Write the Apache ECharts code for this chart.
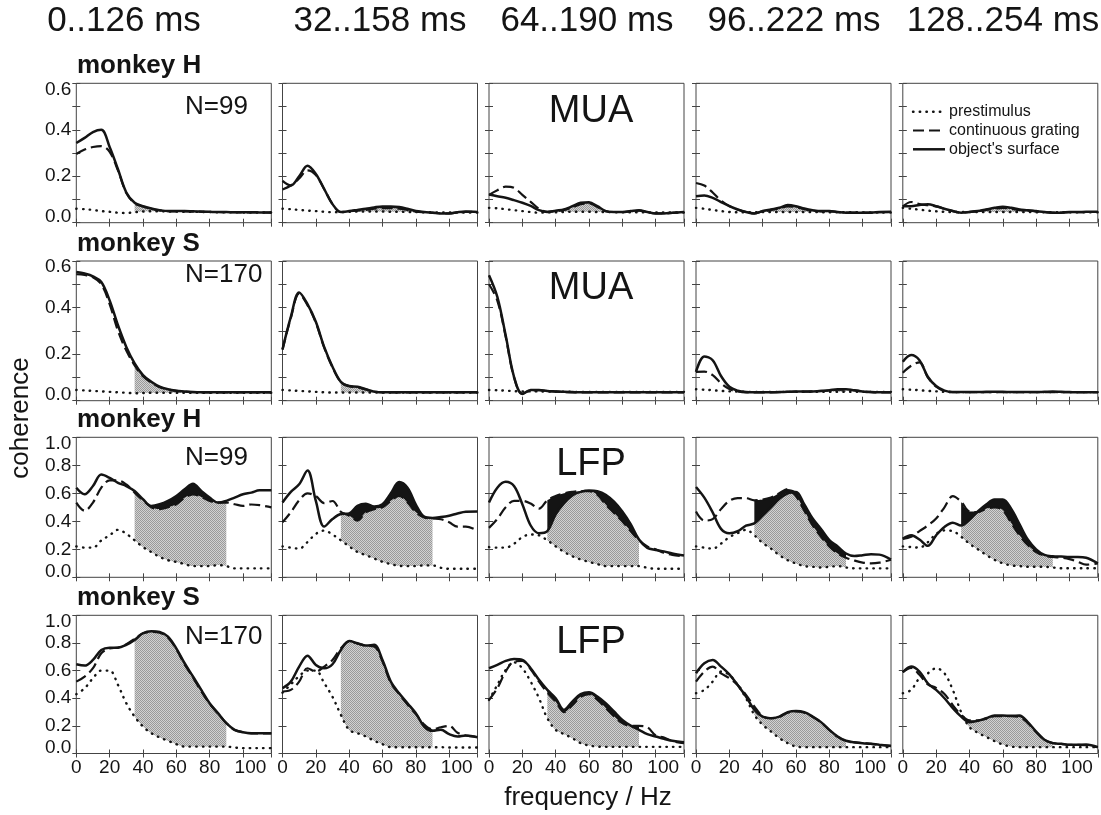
<!DOCTYPE html>
<html>
<head>
<meta charset="utf-8">
<script src="https://cdn.jsdelivr.net/npm/echarts@6/dist/echarts.min.js"></script>
<style>
html, body { margin: 0; background: #fff; }
#chart { width: 1101px; height: 815px; }
</style>
</head>
<body>
<div id="chart"></div>
<script>
// frequency samples (Hz), shared by every panel
const freqs = [0, 5, 10, 15, 20, 25, 30, 35, 40, 45, 50, 55, 60, 65, 70, 75, 80, 85, 90, 95, 100, 105, 110, 117];

const windows = ['0..126 ms', '32..158 ms', '64..190 ms', '96..222 ms', '128..254 ms'];
const monkeys = ['monkey H', 'monkey S', 'monkey H', 'monkey S'];
const counts = ['N=99', 'N=170', 'N=99', 'N=170'];
const signals = ['MUA', 'MUA', 'LFP', 'LFP'];
const legendNames = ['prestimulus', 'continuous grating', "object's surface"];
const xTicks = [0, 20, 40, 60, 80, 100];
const bandHz = [35, 90];

// monkey H, MUA
const mkH_MUA_pre = [
  [0.060,0.058,0.055,0.050,0.047,0.043,0.042,0.045,0.048,0.049,0.049,0.048,0.048,0.047,0.047,0.046,0.046,0.045,0.045,0.045,0.044,0.044,0.044,0.044],
  [0.060,0.058,0.055,0.052,0.050,0.047,0.045,0.046,0.047,0.048,0.048,0.048,0.048,0.047,0.047,0.046,0.046,0.045,0.045,0.044,0.044,0.044,0.044,0.044],
  [0.064,0.062,0.058,0.054,0.050,0.046,0.043,0.044,0.045,0.046,0.047,0.047,0.047,0.046,0.046,0.045,0.045,0.045,0.045,0.044,0.044,0.044,0.044,0.044],
  [0.064,0.060,0.055,0.050,0.046,0.045,0.045,0.045,0.046,0.046,0.046,0.046,0.046,0.046,0.046,0.045,0.045,0.045,0.045,0.045,0.044,0.044,0.044,0.044],
  [0.064,0.060,0.056,0.052,0.049,0.047,0.046,0.046,0.046,0.046,0.046,0.046,0.046,0.046,0.046,0.046,0.045,0.045,0.045,0.045,0.045,0.045,0.045,0.045]
];
const mkH_MUA_grating = [
  [0.296,0.315,0.326,0.330,0.305,0.225,0.128,0.084,0.070,0.060,0.053,0.050,0.049,0.049,0.048,0.047,0.046,0.046,0.045,0.045,0.044,0.044,0.044,0.043],
  [0.143,0.160,0.190,0.225,0.205,0.145,0.080,0.046,0.049,0.052,0.055,0.060,0.063,0.063,0.060,0.055,0.048,0.045,0.043,0.040,0.040,0.044,0.047,0.045],
  [0.120,0.140,0.155,0.150,0.120,0.090,0.060,0.047,0.050,0.055,0.066,0.080,0.083,0.068,0.050,0.046,0.046,0.049,0.052,0.045,0.040,0.040,0.042,0.045],
  [0.171,0.160,0.130,0.095,0.072,0.057,0.046,0.040,0.049,0.055,0.061,0.070,0.067,0.058,0.052,0.049,0.049,0.046,0.043,0.043,0.043,0.043,0.045,0.046],
  [0.070,0.089,0.080,0.075,0.070,0.060,0.050,0.043,0.046,0.050,0.055,0.060,0.064,0.060,0.055,0.052,0.049,0.046,0.043,0.043,0.045,0.045,0.046,0.046]
];
const mkH_MUA_surface = [
  [0.343,0.365,0.390,0.400,0.326,0.230,0.130,0.086,0.071,0.061,0.054,0.050,0.050,0.050,0.049,0.048,0.047,0.046,0.046,0.045,0.045,0.045,0.044,0.044],
  [0.180,0.160,0.200,0.245,0.210,0.145,0.080,0.046,0.050,0.055,0.060,0.066,0.070,0.070,0.068,0.060,0.050,0.046,0.043,0.040,0.040,0.045,0.048,0.046],
  [0.121,0.114,0.107,0.097,0.086,0.072,0.054,0.046,0.052,0.057,0.071,0.086,0.088,0.071,0.050,0.046,0.046,0.050,0.054,0.046,0.040,0.040,0.043,0.046],
  [0.114,0.117,0.107,0.089,0.071,0.057,0.046,0.040,0.050,0.057,0.064,0.076,0.071,0.061,0.054,0.050,0.050,0.046,0.043,0.043,0.043,0.043,0.046,0.047],
  [0.071,0.071,0.076,0.079,0.071,0.060,0.050,0.043,0.046,0.050,0.057,0.064,0.069,0.064,0.057,0.054,0.050,0.046,0.043,0.043,0.046,0.046,0.047,0.047]
];

// monkey S, MUA
const mkS_MUA_pre = [
  [0.046,0.044,0.042,0.040,0.038,0.036,0.034,0.032,0.033,0.034,0.034,0.034,0.034,0.034,0.034,0.034,0.034,0.034,0.034,0.034,0.034,0.034,0.034,0.034],
  [0.046,0.044,0.042,0.040,0.038,0.036,0.035,0.035,0.035,0.035,0.035,0.035,0.035,0.035,0.035,0.035,0.035,0.035,0.035,0.035,0.035,0.035,0.035,0.035],
  [0.046,0.045,0.043,0.041,0.040,0.040,0.040,0.039,0.039,0.039,0.038,0.038,0.038,0.038,0.038,0.038,0.038,0.038,0.038,0.038,0.038,0.038,0.038,0.038],
  [0.049,0.047,0.045,0.042,0.040,0.039,0.038,0.038,0.038,0.038,0.038,0.038,0.038,0.038,0.038,0.038,0.038,0.038,0.038,0.038,0.038,0.038,0.038,0.038],
  [0.049,0.047,0.045,0.042,0.040,0.038,0.037,0.037,0.037,0.037,0.037,0.037,0.037,0.037,0.037,0.037,0.037,0.037,0.037,0.037,0.037,0.037,0.037,0.037]
];
const mkS_MUA_grating = [
  [0.543,0.540,0.530,0.500,0.415,0.300,0.215,0.152,0.105,0.078,0.058,0.048,0.042,0.039,0.037,0.036,0.036,0.036,0.036,0.036,0.036,0.036,0.036,0.036],
  [0.220,0.355,0.460,0.410,0.335,0.228,0.143,0.080,0.062,0.058,0.048,0.039,0.036,0.036,0.036,0.036,0.036,0.036,0.036,0.036,0.036,0.036,0.036,0.036],
  [0.500,0.430,0.275,0.100,0.030,0.044,0.045,0.041,0.039,0.037,0.036,0.036,0.036,0.036,0.036,0.036,0.036,0.036,0.036,0.036,0.036,0.036,0.036,0.036],
  [0.124,0.125,0.110,0.075,0.050,0.040,0.036,0.036,0.036,0.036,0.037,0.038,0.039,0.039,0.040,0.042,0.044,0.047,0.047,0.044,0.040,0.037,0.036,0.036],
  [0.120,0.150,0.165,0.100,0.060,0.042,0.037,0.037,0.037,0.037,0.037,0.037,0.037,0.037,0.037,0.037,0.037,0.037,0.037,0.037,0.037,0.037,0.037,0.037]
];
const mkS_MUA_surface = [
  [0.553,0.546,0.534,0.510,0.431,0.324,0.231,0.160,0.110,0.081,0.060,0.049,0.043,0.040,0.037,0.036,0.036,0.036,0.036,0.036,0.036,0.036,0.036,0.036],
  [0.220,0.360,0.465,0.415,0.339,0.231,0.146,0.081,0.063,0.060,0.049,0.039,0.036,0.036,0.036,0.036,0.036,0.036,0.036,0.036,0.036,0.036,0.036,0.036],
  [0.539,0.446,0.281,0.103,0.029,0.046,0.046,0.042,0.040,0.038,0.037,0.036,0.036,0.036,0.036,0.036,0.036,0.036,0.036,0.036,0.036,0.036,0.036,0.036],
  [0.124,0.190,0.174,0.106,0.060,0.043,0.037,0.036,0.036,0.036,0.037,0.038,0.039,0.039,0.040,0.042,0.045,0.049,0.049,0.045,0.040,0.037,0.036,0.036],
  [0.167,0.196,0.174,0.103,0.063,0.043,0.037,0.037,0.037,0.037,0.038,0.038,0.038,0.037,0.037,0.037,0.037,0.038,0.039,0.038,0.037,0.036,0.036,0.036]
];

// monkey H, LFP
const mkH_LFP_pre = [
  [0.221,0.212,0.212,0.263,0.300,0.339,0.311,0.264,0.216,0.181,0.146,0.122,0.110,0.094,0.080,0.080,0.080,0.087,0.080,0.064,0.064,0.064,0.064,0.064],
  [0.221,0.212,0.205,0.252,0.310,0.334,0.306,0.264,0.221,0.181,0.158,0.134,0.110,0.094,0.082,0.080,0.080,0.085,0.085,0.068,0.061,0.061,0.061,0.061],
  [0.216,0.212,0.212,0.240,0.287,0.306,0.300,0.264,0.221,0.181,0.150,0.127,0.110,0.094,0.080,0.080,0.080,0.080,0.080,0.068,0.061,0.061,0.061,0.061],
  [0.221,0.212,0.205,0.240,0.287,0.315,0.339,0.300,0.245,0.205,0.158,0.122,0.099,0.080,0.075,0.070,0.075,0.080,0.070,0.064,0.064,0.064,0.064,0.064],
  [0.221,0.216,0.212,0.250,0.310,0.335,0.330,0.290,0.240,0.200,0.160,0.125,0.100,0.085,0.080,0.075,0.075,0.075,0.070,0.065,0.065,0.065,0.065,0.065]
];
const mkH_LFP_grating = [
  [0.534,0.475,0.534,0.640,0.692,0.692,0.663,0.605,0.550,0.500,0.487,0.500,0.522,0.569,0.593,0.574,0.546,0.534,0.534,0.522,0.510,0.520,0.515,0.500],
  [0.393,0.465,0.550,0.600,0.580,0.530,0.545,0.468,0.440,0.405,0.464,0.487,0.500,0.546,0.581,0.534,0.464,0.428,0.421,0.415,0.393,0.362,0.362,0.334],
  [0.353,0.416,0.500,0.546,0.546,0.527,0.490,0.550,0.580,0.600,0.610,0.615,0.615,0.590,0.520,0.460,0.400,0.330,0.265,0.220,0.200,0.175,0.160,0.150],
  [0.470,0.405,0.416,0.487,0.546,0.565,0.565,0.550,0.555,0.570,0.600,0.630,0.580,0.475,0.370,0.290,0.220,0.170,0.140,0.120,0.105,0.100,0.105,0.125],
  [0.275,0.290,0.330,0.370,0.420,0.500,0.580,0.540,0.470,0.465,0.490,0.500,0.480,0.390,0.300,0.230,0.180,0.155,0.145,0.140,0.130,0.110,0.090,0.100]
];
const mkH_LFP_surface = [
  [0.640,0.593,0.652,0.734,0.710,0.675,0.652,0.616,0.558,0.510,0.522,0.546,0.581,0.628,0.668,0.616,0.569,0.534,0.546,0.569,0.593,0.605,0.621,0.621],
  [0.534,0.610,0.664,0.762,0.546,0.362,0.416,0.452,0.456,0.510,0.525,0.505,0.522,0.600,0.680,0.640,0.520,0.433,0.424,0.430,0.440,0.456,0.468,0.470],
  [0.534,0.640,0.682,0.652,0.522,0.370,0.315,0.330,0.450,0.530,0.585,0.610,0.620,0.615,0.590,0.540,0.470,0.380,0.270,0.210,0.195,0.185,0.170,0.155],
  [0.645,0.569,0.464,0.346,0.315,0.329,0.369,0.385,0.440,0.500,0.560,0.600,0.610,0.520,0.420,0.345,0.265,0.220,0.170,0.152,0.158,0.165,0.162,0.127],
  [0.275,0.300,0.270,0.225,0.300,0.360,0.390,0.370,0.410,0.470,0.520,0.555,0.555,0.490,0.380,0.270,0.200,0.160,0.150,0.148,0.145,0.145,0.140,0.100]
];

// monkey S, LFP
const mkS_LFP_pre = [
  [0.429,0.472,0.545,0.600,0.600,0.496,0.364,0.267,0.195,0.147,0.116,0.092,0.067,0.050,0.050,0.050,0.050,0.050,0.050,0.043,0.039,0.039,0.039,0.039],
  [0.440,0.500,0.560,0.600,0.600,0.510,0.410,0.280,0.170,0.147,0.123,0.092,0.067,0.046,0.045,0.045,0.045,0.045,0.045,0.045,0.043,0.043,0.043,0.043],
  [0.388,0.496,0.605,0.660,0.617,0.520,0.400,0.255,0.171,0.140,0.111,0.075,0.058,0.050,0.048,0.048,0.048,0.048,0.048,0.048,0.048,0.048,0.048,0.048],
  [0.436,0.460,0.520,0.593,0.569,0.496,0.400,0.280,0.207,0.159,0.111,0.075,0.050,0.046,0.046,0.046,0.046,0.046,0.046,0.046,0.046,0.046,0.046,0.046],
  [0.436,0.460,0.545,0.580,0.617,0.580,0.460,0.300,0.190,0.150,0.120,0.090,0.065,0.050,0.046,0.046,0.046,0.046,0.046,0.046,0.046,0.046,0.046,0.046]
];
const mkS_LFP_grating = [
  [0.520,0.557,0.617,0.725,0.760,0.766,0.790,0.830,0.870,0.880,0.875,0.840,0.755,0.645,0.550,0.450,0.360,0.290,0.220,0.170,0.155,0.145,0.145,0.145],
  [0.448,0.460,0.520,0.617,0.593,0.629,0.677,0.761,0.810,0.795,0.780,0.775,0.665,0.510,0.430,0.355,0.285,0.210,0.175,0.190,0.200,0.150,0.130,0.120],
  [0.388,0.472,0.593,0.665,0.670,0.610,0.520,0.440,0.375,0.300,0.350,0.410,0.430,0.390,0.330,0.270,0.220,0.200,0.200,0.190,0.130,0.115,0.090,0.075],
  [0.520,0.593,0.629,0.580,0.545,0.496,0.424,0.340,0.270,0.255,0.265,0.295,0.305,0.295,0.265,0.225,0.170,0.120,0.090,0.080,0.075,0.070,0.063,0.055],
  [0.588,0.620,0.570,0.500,0.475,0.430,0.350,0.280,0.240,0.240,0.250,0.270,0.270,0.270,0.265,0.220,0.155,0.100,0.075,0.070,0.063,0.063,0.060,0.046]
];
const mkS_LFP_surface = [
  [0.646,0.636,0.677,0.749,0.766,0.766,0.786,0.822,0.870,0.885,0.880,0.846,0.761,0.653,0.557,0.460,0.364,0.292,0.219,0.171,0.154,0.147,0.147,0.147],
  [0.472,0.520,0.629,0.708,0.641,0.617,0.646,0.749,0.814,0.798,0.781,0.786,0.677,0.520,0.436,0.364,0.292,0.195,0.164,0.171,0.140,0.123,0.130,0.118],
  [0.617,0.641,0.670,0.684,0.677,0.617,0.533,0.460,0.400,0.315,0.376,0.429,0.443,0.412,0.364,0.304,0.243,0.202,0.171,0.140,0.123,0.106,0.092,0.082],
  [0.581,0.653,0.677,0.629,0.573,0.496,0.412,0.316,0.267,0.255,0.267,0.299,0.308,0.299,0.267,0.227,0.171,0.123,0.092,0.082,0.075,0.070,0.063,0.055],
  [0.588,0.629,0.593,0.508,0.460,0.400,0.328,0.267,0.227,0.236,0.255,0.275,0.275,0.273,0.275,0.227,0.159,0.099,0.075,0.070,0.063,0.063,0.065,0.046]
];

const rows = [
  { pre: mkH_MUA_pre, grt: mkH_MUA_grating, obj: mkH_MUA_surface, yMax: 0.6, step: 0.1 },
  { pre: mkS_MUA_pre, grt: mkS_MUA_grating, obj: mkS_MUA_surface, yMax: 0.6, step: 0.1 },
  { pre: mkH_LFP_pre, grt: mkH_LFP_grating, obj: mkH_LFP_surface, yMax: 1.0, step: 0.2 },
  { pre: mkS_LFP_pre, grt: mkS_LFP_grating, obj: mkS_LFP_surface, yMax: 1.0, step: 0.2 }
];

// layout (px)
const colLeft = [76.3, 282.5, 489, 696, 902.8];
const colWidth = 195;
const rowTop = [83.3, 261, 437.3, 615.3];
const rowHeight = [139.4, 139.7, 140, 138.2];

const font = "'Liberation Sans', Arial, Helvetica, sans-serif";
const ink = '#141414';
const frame = '#444';

// stipple used for the grey band (fine checker, low contrast)
const dots = document.createElement('canvas');
dots.width = 2;
dots.height = 2;
const dctx = dots.getContext('2d');
dctx.fillStyle = '#d2d2d2';
dctx.fillRect(0, 0, 2, 2);
dctx.fillStyle = '#9a9a9a';
dctx.fillRect(0, 0, 1, 1);
dctx.fillRect(1, 1, 1, 1);

const preStyle = { color: ink, width: 2.4, type: [0.5, 6.2], cap: 'round' };
const grtStyle = { color: ink, width: 2.2, type: [11, 5] };
const objStyle = { color: ink, width: 2.5 };

const grids = [], xAxes = [], yAxes = [], series = [];

rows.forEach((row, r) => {
  for (let c = 0; c < 5; c++) {
    const g = grids.length;
    grids.push({
      left: colLeft[c], top: rowTop[r], width: colWidth, height: rowHeight[r],
      show: true, borderColor: frame, borderWidth: 1, backgroundColor: 'rgba(0,0,0,0)'
    });
    const tick = { show: true, inside: true, length: 4, lineStyle: { color: frame, width: 1 } };
    const xBase = {
      gridIndex: g, type: 'value', min: 0, max: 117, interval: 20,
      axisLine: { show: false }, axisTick: tick, splitLine: { show: false }
    };
    xAxes.push(Object.assign({}, xBase, {
      position: 'bottom',
      axisLabel: {
        show: r === 3, margin: 5, fontSize: 19, fontFamily: font, color: ink,
        formatter: v => xTicks.indexOf(v) < 0 ? '' : (v === 100 ? '{w|100}' : String(v)),
        rich: { w: { fontSize: 19, fontFamily: font, color: ink, padding: [0, 0, 0, 15] } }
      }
    }));
    xAxes.push(Object.assign({}, xBase, { position: 'top', axisLabel: { show: false } }));

    const yBase = {
      gridIndex: g, type: 'value', min: 0, max: row.yMax, interval: row.step,
      axisLine: { show: false }, axisTick: tick, splitLine: { show: false }
    };
    yAxes.push(Object.assign({}, yBase, {
      position: 'left',
      axisLabel: {
        show: c === 0, margin: 5, fontSize: 19, fontFamily: font, color: ink,
        formatter: v => {
          const t = Math.round(v * 10);
          if (t % 2) return '';
          const s = (t / 10).toFixed(1);
          if (t === 0) return '{lo|' + s + '}';
          if (Math.abs(v - row.yMax) < 1e-6) return '{hi|' + s + '}';
          return s;
        },
        rich: {
          lo: { fontSize: 19, fontFamily: font, color: ink, padding: [0, 0, 12, 0] },
          hi: { fontSize: 19, fontFamily: font, color: ink, padding: [12, 0, 0, 0] }
        }
      }
    }));
    yAxes.push(Object.assign({}, yBase, { position: 'right', axisLabel: { show: false } }));

    const pre = row.pre[c], grt = row.grt[c], obj = row.obj[c];
    const common = {
      type: 'line', xAxisIndex: 2 * g, yAxisIndex: 2 * g, symbol: 'none',
      smooth: 0.35, silent: true, animation: false
    };

    // stacked band: invisible floor, stippled part up to the lower curve, black between the curves.
    // values come first in each pair so that the stack runs along y, not along frequency.
    const floor = [], grey = [], black = [];
    freqs.forEach((f, k) => {
      if (f < bandHz[0] || f > bandHz[1]) return;
      const lo = Math.min(grt[k], obj[k]);
      const b = Math.min(pre[k], lo);
      floor.push([b, f]);
      grey.push([lo - b, f]);
      black.push([Math.abs(obj[k] - grt[k]), f]);
    });
    const stack = 'band' + g;
    const band = Object.assign({}, common, { stack, encode: { x: 1, y: 0 }, lineStyle: { opacity: 0 }, z: 1 });
    series.push(Object.assign({}, band, { data: floor }));
    series.push(Object.assign({}, band, {
      data: grey, areaStyle: { color: { image: dots, repeat: 'repeat' }, opacity: 1 }
    }));
    series.push(Object.assign({}, band, { data: black, areaStyle: { color: ink, opacity: 1 } }));

    series.push(Object.assign({}, common, { name: legendNames[0], data: freqs.map((f, k) => [f, pre[k]]), lineStyle: preStyle, z: 3 }));
    series.push(Object.assign({}, common, { name: legendNames[1], data: freqs.map((f, k) => [f, grt[k]]), lineStyle: grtStyle, z: 4 }));
    series.push(Object.assign({}, common, { name: legendNames[2], data: freqs.map((f, k) => [f, obj[k]]), lineStyle: objStyle, z: 5 }));
  }
});

function txt(text, x, y, size, extra) {
  return {
    type: 'text', x, y, silent: true, z: 50,
    rotation: (extra && extra.rotation) || 0,
    style: Object.assign({
      text, fontSize: size, fontFamily: font, fill: ink,
      align: 'center', verticalAlign: 'middle'
    }, extra && extra.style)
  };
}

const graphics = [];
const titleX = [124, 380, 587, 794, 1003];
windows.forEach((w, c) => graphics.push(txt(w, titleX[c], 21, 35)));
monkeys.forEach((m, r) => graphics.push(txt(m, 77, rowTop[r] - 17, 26, { style: { align: 'left', fontWeight: 'bold' } })));
const countY = [106.5, 275, 458, 637];
counts.forEach((n, r) => graphics.push(txt(n, 185, countY[r], 26, { style: { align: 'left' } })));
const signalY = [111.7, 289, 464.5, 643];
signals.forEach((s, r) => graphics.push(txt(s, 591, signalY[r], 38)));
graphics.push(txt('coherence', 21, 418, 26, { rotation: Math.PI / 2 }));
graphics.push(txt('frequency / Hz', 588, 798, 26));

// legend in the top-right panel
const legY = [111.7, 130.5, 149.3];
const legStyles = [preStyle, grtStyle, objStyle];
legendNames.forEach((n, i) => {
  const ls = legStyles[i];
  graphics.push({
    type: 'line', silent: true, z: 50,
    shape: { x1: 913, y1: legY[i], x2: 945, y2: legY[i] },
    style: { stroke: ink, lineWidth: ls.width, lineDash: ls.type || null, lineCap: ls.cap || 'butt' }
  });
  graphics.push(txt(n, 949, legY[i], 16, { style: { align: 'left' } }));
});

const chart = echarts.init(document.getElementById('chart'), null, { renderer: 'canvas' });
chart.setOption({
  animation: false,
  backgroundColor: '#fff',
  textStyle: { fontFamily: font },
  grid: grids,
  xAxis: xAxes,
  yAxis: yAxes,
  series: series,
  graphic: graphics
});
window.addEventListener('resize', chart.resize);
</script>
</body>
</html>
